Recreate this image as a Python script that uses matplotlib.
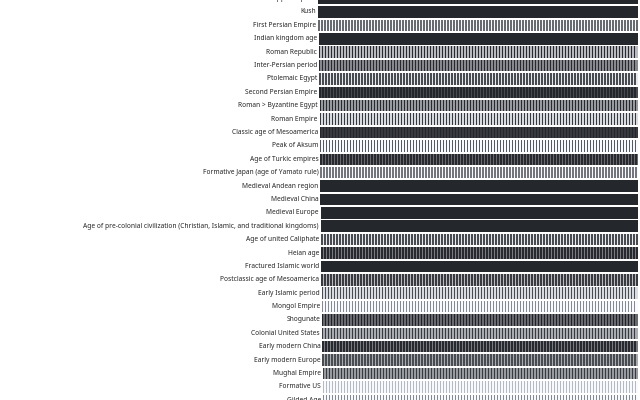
import numpy as np
import matplotlib
matplotlib.use("Agg")
from matplotlib import pyplot as plt

plt.rcParams['font.family'] = ['Noto Sans', 'DejaVu Sans']

# rows, top to bottom (first and last are cut off by the frame)
labels = [
    "Ancient steppe empires", "Kush", "First Persian Empire", "Indian kingdom age",
    "Roman Republic", "Inter-Persian period", "Ptolemaic Egypt", "Second Persian Empire",
    "Roman > Byzantine Egypt", "Roman Empire", "Classic age of Mesoamerica", "Peak of Aksum",
    "Age of Turkic empires", "Formative Japan (age of Yamato rule)", "Medieval Andean region",
    "Medieval China", "Medieval Europe",
    "Age of pre-colonial civilization (Christian, Islamic, and traditional kingdoms)",
    "Age of united Caliphate", "Heian age", "Fractured Islamic world",
    "Postclassic age of Mesoamerica", "Early Islamic period", "Mongol Empire", "Shogunate",
    "Colonial United States", "Early modern China", "Early modern Europe", "Mughal Empire",
    "Formative US", "Gilded Age",
]
# where each row's bar begins (in stripe units)
start = [0.0, 0.0, 0.1, 0.2, 0.3, 0.3, 0.4, 0.4, 0.5, 0.5, 0.6, 0.6, 0.7, 0.7, 0.8,
         0.8, 0.9, 0.9, 1.0, 1.0, 1.1, 1.1, 1.2, 1.2, 1.3, 1.3, 1.4, 1.4, 1.5, 1.5, 1.6]
# grey level of the thin stripes and of the gaps between them (0 = black, 1 = white)
stripe_gray = [0.12, 0.12, 0.40, 0.12, 0.13, 0.13, 0.27, 0.12, 0.13, 0.20, 0.12, 0.33,
               0.13, 0.45, 0.12, 0.12, 0.12, 0.12, 0.27, 0.13, 0.12, 0.20, 0.27, 0.53,
               0.10, 0.20, 0.13, 0.27, 0.20, 0.73, 0.53]
gap_gray = [0.12, 0.12, 1.00, 0.12, 0.73, 0.53, 0.93, 0.27, 0.60, 0.87, 0.20, 1.00,
            0.40, 1.00, 0.12, 0.12, 0.12, 0.12, 0.93, 0.47, 0.12, 0.73, 0.87, 1.00,
            0.40, 0.67, 0.47, 0.67, 0.60, 1.00, 1.00]
bar_end = 106.67
n_cols = 107

fig = plt.figure(figsize=(6.4, 4), dpi=100)
# 107 stripes over 321 px -> exactly 3 px per stripe, no moire
ax = fig.add_axes([318 / 640, -0.0175, 321 / 640, 1.0378])

def grey(v):
    v = min(max(v, 0), 1)
    return (v * 0.94 + 0.03, v * 0.94 + 0.04, v * 0.94 + 0.06)

for i, lab in enumerate(labels):
    n = int(bar_end - start[i] - 0.5) + 1
    cols = start[i] + np.arange(n)
    ax.barh(i, bar_end - start[i], left=start[i], height=0.86, color=grey(gap_gray[i]),
            linewidth=0)
    ax.bar(cols, np.full(n, 0.86), bottom=i - 0.43, width=0.5,
           color=grey(stripe_gray[i]), linewidth=0, align='edge')
    ax.text(start[i] - 0.6, i, lab, ha='right', va='center', fontsize=4.8,
            color='#262626', clip_on=False)

ax.set_xlim(0, n_cols)
ax.set_ylim(len(labels) - 0.5, -0.5)
ax.set_xticks([])
ax.set_yticks([])
for s in ax.spines.values():
    s.set_visible(False)

fig.savefig("out.png", dpi=100)
